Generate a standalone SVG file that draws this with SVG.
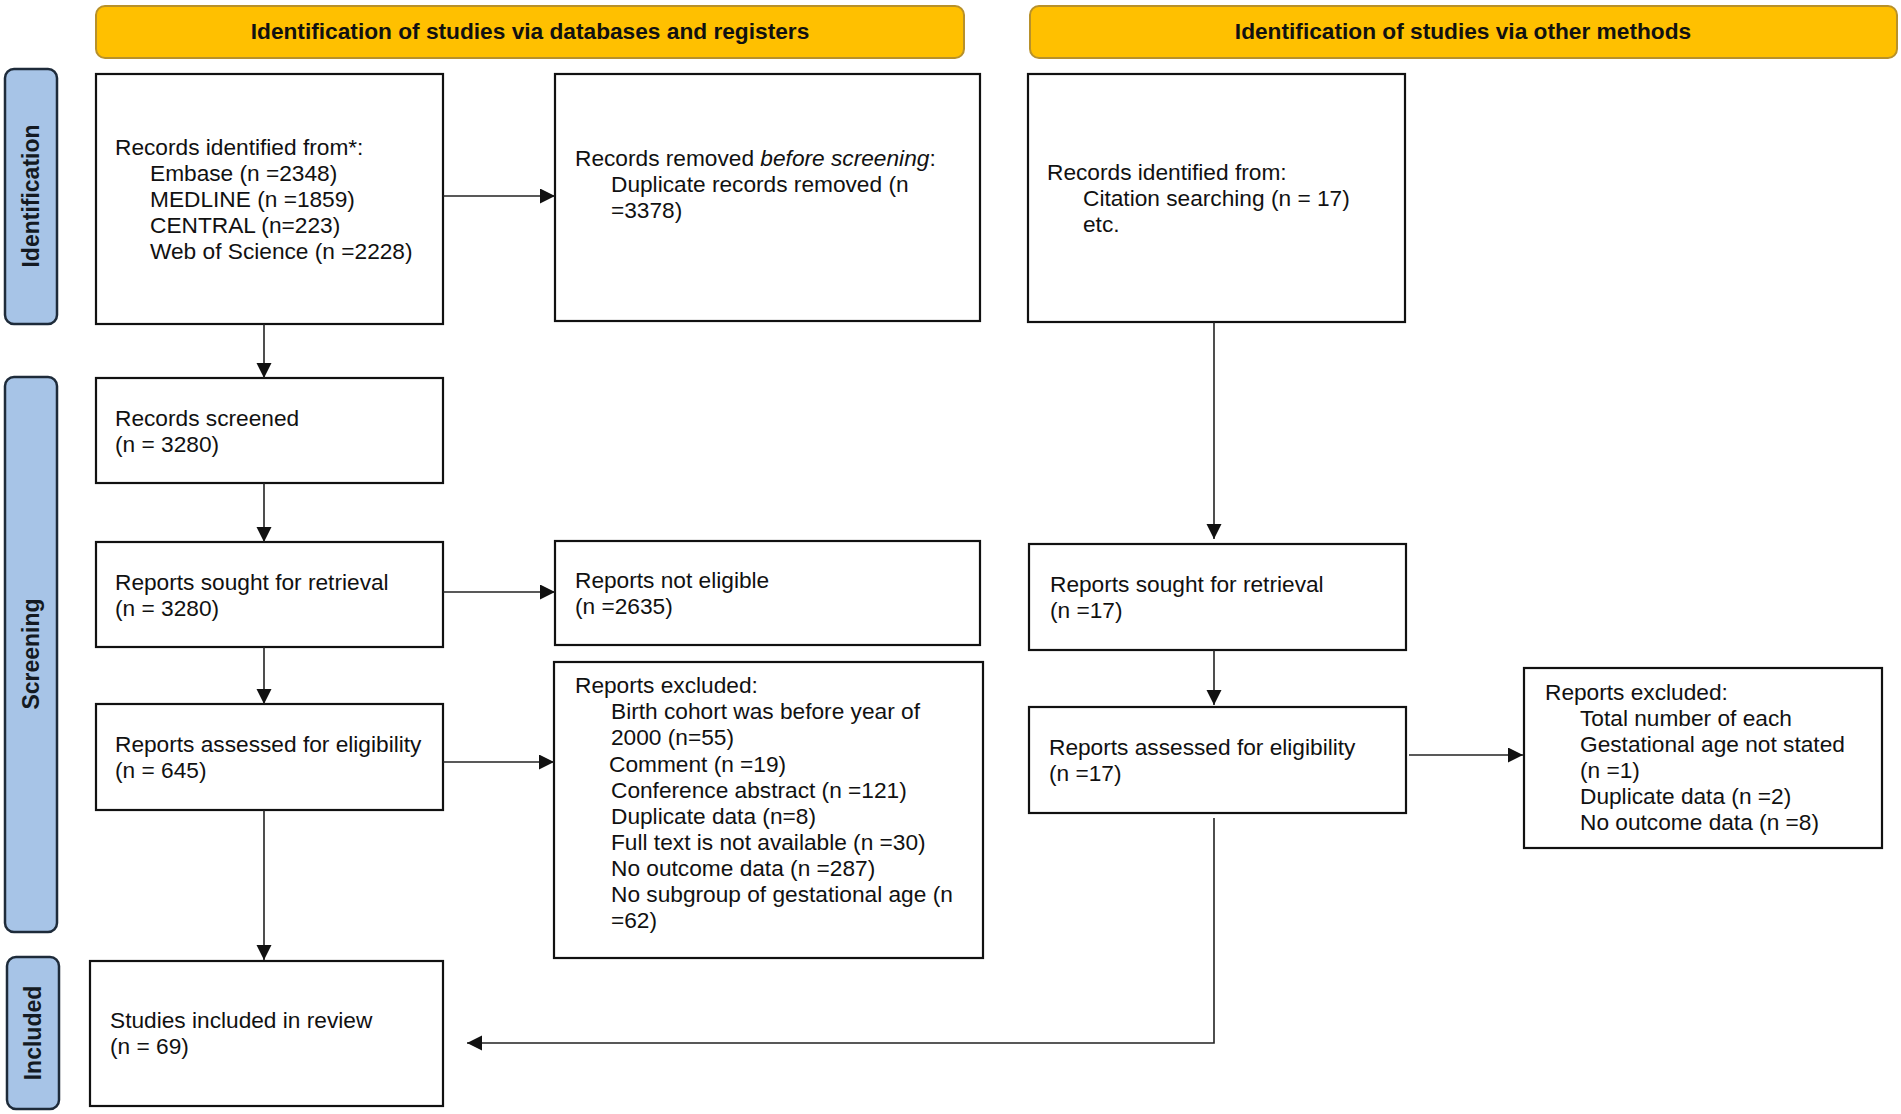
<svg xmlns="http://www.w3.org/2000/svg" width="1901" height="1114" viewBox="0 0 1901 1114">
<style>
.hdr{fill:#FFC000;stroke:#B8912A;stroke-width:2}
.side{fill:#A7C4E7;stroke:#1E2B3A;stroke-width:2.5}
.box{fill:#fff;stroke:#111;stroke-width:2.2}
.t{font-family:"Liberation Sans",Arial,sans-serif;font-size:22.7px;fill:#111}
.ht{font-family:"Liberation Sans",Arial,sans-serif;font-size:22.7px;font-weight:bold;fill:#111;text-anchor:middle}
.st{font-family:"Liberation Sans",Arial,sans-serif;font-size:23px;font-weight:bold;fill:#141a22;text-anchor:middle}
.c{fill:none;stroke:#222;stroke-width:1.6}
</style>
<defs>
<marker id="ah" markerUnits="userSpaceOnUse" markerWidth="16" markerHeight="16" refX="15" refY="7.5" orient="auto">
<path d="M0,0 L15,7.5 L0,15 z" fill="#111"/>
</marker>
</defs>
<rect width="1901" height="1114" fill="#fff"/>

<g id="header-databases"><rect class="hdr" x="96" y="6" width="868" height="52" rx="9"/><text class="ht" x="530" y="39">Identification of studies via databases and registers</text></g>
<g id="header-other"><rect class="hdr" x="1030" y="6" width="867" height="52" rx="9"/><text class="ht" x="1463" y="39">Identification of studies via other methods</text></g>

<g id="label-identification"><rect class="side" x="5" y="69" width="52" height="255" rx="9"/><text class="st" transform="translate(39,196) rotate(-90)">Identification</text></g>
<g id="label-screening"><rect class="side" x="5" y="377" width="52" height="555" rx="9"/><text class="st" transform="translate(39,654) rotate(-90)">Screening</text></g>
<g id="label-included"><rect class="side" x="7" y="957" width="52" height="152" rx="9"/><text class="st" transform="translate(41,1033) rotate(-90)">Included</text></g>

<g id="records-identified"><rect class="box" x="96" y="74" width="347" height="250"/>
<text class="t"><tspan x="115" y="155">Records identified from*:</tspan><tspan x="150" y="181">Embase (n =2348)</tspan><tspan x="150" y="207">MEDLINE (n =1859)</tspan><tspan x="150" y="233">CENTRAL (n=223)</tspan><tspan x="150" y="259">Web of Science (n =2228)</tspan></text></g>

<g id="records-removed"><rect class="box" x="555" y="74" width="425" height="247"/>
<text class="t"><tspan x="575" y="166">Records removed <tspan font-style="italic">before screening</tspan>:</tspan><tspan x="611" y="192">Duplicate records removed (n</tspan><tspan x="611" y="218">=3378)</tspan></text></g>

<g id="other-records"><rect class="box" x="1028" y="74" width="377" height="248"/>
<text class="t"><tspan x="1047" y="180">Records identified from:</tspan><tspan x="1083" y="206">Citation searching (n = 17)</tspan><tspan x="1083" y="232">etc.</tspan></text></g>

<g id="records-screened"><rect class="box" x="96" y="378" width="347" height="105"/>
<text class="t"><tspan x="115" y="426">Records screened</tspan><tspan x="115" y="452">(n = 3280)</tspan></text></g>

<g id="reports-sought"><rect class="box" x="96" y="542" width="347" height="105"/>
<text class="t"><tspan x="115" y="590">Reports sought for retrieval</tspan><tspan x="115" y="616">(n = 3280)</tspan></text></g>

<g id="reports-not-eligible"><rect class="box" x="555" y="541" width="425" height="104"/>
<text class="t"><tspan x="575" y="588">Reports not eligible</tspan><tspan x="575" y="614">(n =2635)</tspan></text></g>

<g id="reports-assessed"><rect class="box" x="96" y="704" width="347" height="106"/>
<text class="t"><tspan x="115" y="752">Reports assessed for eligibility</tspan><tspan x="115" y="778">(n = 645)</tspan></text></g>

<g id="reports-excluded"><rect class="box" x="554" y="662" width="429" height="296"/>
<text class="t"><tspan x="575" y="693">Reports excluded:</tspan><tspan x="611" y="719">Birth cohort was before year of</tspan><tspan x="611" y="745">2000 (n=55)</tspan><tspan x="609" y="772">Comment (n =19)</tspan><tspan x="611" y="798">Conference abstract (n =121)</tspan><tspan x="611" y="824">Duplicate data (n=8)</tspan><tspan x="611" y="850">Full text is not available (n =30)</tspan><tspan x="611" y="876">No outcome data (n =287)</tspan><tspan x="611" y="902">No subgroup of gestational age (n</tspan><tspan x="611" y="928">=62)</tspan></text></g>

<g id="studies-included"><rect class="box" x="90" y="961" width="353" height="145"/>
<text class="t"><tspan x="110" y="1028">Studies included in review</tspan><tspan x="110" y="1054">(n = 69)</tspan></text></g>

<g id="other-sought"><rect class="box" x="1029" y="544" width="377" height="106"/>
<text class="t"><tspan x="1050" y="592">Reports sought for retrieval</tspan><tspan x="1050" y="618">(n =17)</tspan></text></g>

<g id="other-assessed"><rect class="box" x="1029" y="707" width="377" height="106"/>
<text class="t"><tspan x="1049" y="755">Reports assessed for eligibility</tspan><tspan x="1049" y="781">(n =17)</tspan></text></g>

<g id="other-excluded"><rect class="box" x="1524" y="668" width="358" height="180"/>
<text class="t"><tspan x="1545" y="700">Reports excluded:</tspan><tspan x="1580" y="726">Total number of each</tspan><tspan x="1580" y="752">Gestational age not stated</tspan><tspan x="1580" y="778">(n =1)</tspan><tspan x="1580" y="804">Duplicate data (n =2)</tspan><tspan x="1580" y="830">No outcome data (n =8)</tspan></text></g>

<g id="connectors">
<line class="c" x1="443" y1="196" x2="555" y2="196" marker-end="url(#ah)"/>
<line class="c" x1="264" y1="324" x2="264" y2="378" marker-end="url(#ah)"/>
<line class="c" x1="264" y1="483" x2="264" y2="542" marker-end="url(#ah)"/>
<line class="c" x1="443" y1="592" x2="555" y2="592" marker-end="url(#ah)"/>
<line class="c" x1="264" y1="647" x2="264" y2="704" marker-end="url(#ah)"/>
<line class="c" x1="443" y1="762" x2="554" y2="762" marker-end="url(#ah)"/>
<line class="c" x1="264" y1="810" x2="264" y2="960" marker-end="url(#ah)"/>
<line class="c" x1="1214" y1="322" x2="1214" y2="539" marker-end="url(#ah)"/>
<line class="c" x1="1214" y1="650" x2="1214" y2="705" marker-end="url(#ah)"/>
<line class="c" x1="1409" y1="755" x2="1523" y2="755" marker-end="url(#ah)"/>
<polyline class="c" points="1214,818 1214,1043 467,1043" marker-end="url(#ah)"/>
</g>
</svg>
